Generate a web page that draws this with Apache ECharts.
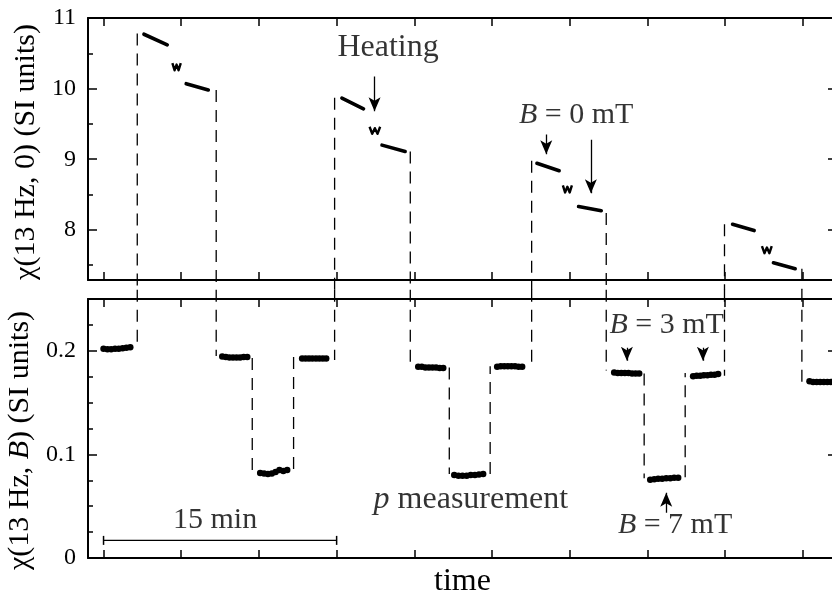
<!DOCTYPE html>
<html>
<head>
<meta charset="utf-8">
<script src="https://cdn.jsdelivr.net/npm/echarts@6/dist/echarts.min.js"></script>
<style>
  html, body { margin: 0; padding: 0; background: #ffffff; }
  #chart { width: 832px; height: 599px; }
</style>
</head>
<body>
<div id="chart"></div>
<script>
// ---- axes ----------------------------------------------------------------
// time in minutes, ticks every 5 min
const timeTicks = [0, 5, 10, 15, 20, 25, 30, 35, 40, 45];
const zeroFieldTicks = [8, 9, 10, 11];
const zeroFieldMinor = [7.5, 8.5, 9.5, 10.5];
const fieldTicks = [0, 0.1, 0.2];
const fieldMinor = [0.025, 0.05, 0.075, 0.125, 0.15, 0.175, 0.225];

// ---- chi(13 Hz, 0): B = 0 mT runs around each heating pulse -------------
const zeroRun1a = [[2.60, 10.77], [4.10, 10.62]];
const zeroRun1b = [[5.32, 10.07], [6.74, 9.98]];
const zeroRun2a = [[15.34, 9.865], [16.73, 9.714]];
const zeroRun2b = [[17.92, 9.20], [19.41, 9.11]];
const zeroRun3a = [[27.89, 8.943], [29.32, 8.838]];
const zeroRun3b = [[30.57, 8.33], [32.03, 8.27]];
const zeroRun4a = [[40.48, 8.078], [41.87, 7.99]];
const zeroRun4b = [[43.11, 7.533], [44.51, 7.45]];

// readings taken during heating
const heat1 = [[4.43, 10.36], [4.57, 10.26], [4.70, 10.34], [4.83, 10.26], [4.97, 10.36]];
const heat2 = [[17.12, 9.46], [17.29, 9.36], [17.46, 9.44], [17.63, 9.36], [17.80, 9.46]];
const heat3 = [[29.56, 8.63], [29.70, 8.53], [29.85, 8.61], [30.00, 8.53], [30.14, 8.63]];
const heat4 = [[42.37, 7.77], [42.53, 7.67], [42.69, 7.75], [42.85, 7.67], [43.00, 7.77]];

// ---- chi(13 Hz, B): field runs (B = 3 mT and B = 7 mT) -------------------
const field3a = [[0.00, 0.202], [0.25, 0.2015], [0.49, 0.2015], [0.74, 0.202], [0.98, 0.202], [1.23, 0.2025], [1.47, 0.203], [1.72, 0.2035]];
const field3b = [[7.64, 0.1945], [7.87, 0.194], [8.10, 0.1935], [8.33, 0.1935], [8.56, 0.1935], [8.79, 0.1935], [9.02, 0.194], [9.25, 0.194]];
const field7a = [[10.08, 0.082], [10.33, 0.0815], [10.58, 0.081], [10.83, 0.0815], [11.07, 0.083], [11.32, 0.085], [11.57, 0.084], [11.82, 0.085]];
const field3c = [[12.78, 0.1925], [13.00, 0.1925], [13.22, 0.1925], [13.44, 0.1925], [13.67, 0.1925], [13.89, 0.1925], [14.11, 0.1925], [14.33, 0.1925]];
const field3d = [[20.25, 0.1845], [20.48, 0.1845], [20.71, 0.184], [20.94, 0.184], [21.17, 0.184], [21.40, 0.184], [21.63, 0.1835], [21.86, 0.1835]];
const field7b = [[22.57, 0.080], [22.84, 0.0795], [23.10, 0.0795], [23.37, 0.0795], [23.63, 0.080], [23.90, 0.080], [24.16, 0.0805], [24.43, 0.081]];
const field3e = [[25.33, 0.1845], [25.56, 0.185], [25.79, 0.185], [26.02, 0.185], [26.25, 0.185], [26.48, 0.185], [26.71, 0.1845], [26.94, 0.1845]];
const field3f = [[32.86, 0.179], [33.09, 0.1785], [33.32, 0.1785], [33.55, 0.1785], [33.78, 0.1785], [34.01, 0.178], [34.24, 0.178], [34.47, 0.178]];
const field7c = [[35.18, 0.0755], [35.44, 0.076], [35.69, 0.0765], [35.95, 0.0765], [36.21, 0.077], [36.47, 0.077], [36.72, 0.0775], [36.98, 0.0775]];
const field3g = [[37.94, 0.1755], [38.17, 0.176], [38.40, 0.176], [38.63, 0.1765], [38.86, 0.1765], [39.09, 0.177], [39.32, 0.177], [39.55, 0.1775]];
const field3h = [[45.43, 0.1705], [45.66, 0.170], [45.89, 0.170], [46.12, 0.170], [46.35, 0.170], [46.58, 0.170], [46.81, 0.170], [47.04, 0.170]];

// ---- switching between runs: [time, chi(13 Hz, 0), chi(13 Hz, B)] -------
const panelSwitches = [
  [2.17, 10.78, 0.205], [7.25, 9.98, 0.195],
  [14.87, 9.87, 0.191], [19.74, 9.11, 0.1855],
  [27.55, 8.98, 0.1817], [32.35, 8.24, 0.181],
  [39.96, 8.08, 0.176], [44.94, 7.45, 0.170]
];
// field steps inside the lower panel: [time, from, to]
const fieldSteps = [
  [9.57, 0.193, 0.083], [12.23, 0.086, 0.195],
  [22.25, 0.184, 0.081], [24.88, 0.081, 0.185],
  [34.79, 0.178, 0.077], [37.43, 0.078, 0.1785]
];

// 15 min scale bar
const scaleBar = [[0, 0.017], [15, 0.017]];

// ---- annotations ---------------------------------------------------------
const upperNotes = [
  { at: [18.31, 10.58], text: 'Heating', size: 32 },
  { at: [30.41, 9.62], text: '{i|B} = 0 mT', size: 30 }
];
const lowerNotes = [
  { at: [23.64, 0.056], text: '{i|p} measurement', size: 32 },
  { at: [36.24, 0.225], text: '{i|B} = 3 mT', size: 30 },
  { at: [36.78, 0.032], text: '{i|B} = 7 mT', size: 30 },
  { at: [7.18, 0.037], text: '15 min', size: 30 }
];
const upperArrows = [
  [[17.44, 10.17], [17.44, 9.68]],
  [[28.49, 9.35], [28.49, 9.07]],
  [[31.36, 9.275], [31.36, 8.52]]
];
const lowerArrows = [
  [[33.68, 0.2029], [33.68, 0.1905]],
  [[38.57, 0.2029], [38.57, 0.1905]],
  [[36.21, 0.0437], [36.21, 0.063]]
];

// ---- styling -------------------------------------------------------------
const INK = '#000000';
const SERIF = 'Liberation Serif';
const TIME = { min: -1, max: 47.2 };
const UPPER = { min: 7.29, max: 11 };
const LOWER = { min: 0, max: 0.25 };
// switching lines meet halfway between the two panels
const UPPER_JOIN = 7.15;
const LOWER_JOIN = 0.259;

function xAxisFor(gridIndex, position, extra) {
  return Object.assign({
    type: 'value', gridIndex, position, min: TIME.min, max: TIME.max,
    axisLine: { show: true, onZero: false, lineStyle: { color: INK, width: 2 } },
    axisTick: { show: true, inside: true, length: 8, customValues: timeTicks, lineStyle: { color: INK, width: 1.5 } },
    axisLabel: { show: false, customValues: timeTicks },
    splitLine: { show: false }
  }, extra || {});
}

function yAxisFor(gridIndex, position, range, ticks, len, withLine, withLabels, extra) {
  return Object.assign({
    type: 'value', gridIndex, position, min: range.min, max: range.max,
    axisLine: { show: withLine, onZero: false, lineStyle: { color: INK, width: 2 } },
    axisTick: { show: true, inside: true, length: len, customValues: ticks, lineStyle: { color: INK, width: 1.5 } },
    axisLabel: {
      show: withLabels, customValues: ticks, margin: 12,
      fontFamily: SERIF, fontSize: 24, color: INK
    },
    splitLine: { show: false }
  }, extra || {});
}

const nameStyle = {
  fontFamily: SERIF, fontSize: 30, color: INK,
  rich: { i: { fontFamily: SERIF, fontSize: 30, fontStyle: 'italic', color: INK } }
};

const xAxes = [
  xAxisFor(0, 'bottom'),
  xAxisFor(0, 'top'),
  xAxisFor(1, 'bottom', {
    name: 'time', nameLocation: 'middle', nameGap: 8,
    nameTextStyle: { fontFamily: SERIF, fontSize: 32, color: INK }
  }),
  xAxisFor(1, 'top')
];

const yAxes = [
  yAxisFor(0, 'left', UPPER, zeroFieldTicks, 9, true, true, {
    name: 'χ(13 Hz, 0) (SI units)', nameLocation: 'middle', nameGap: 44,
    nameTextStyle: Object.assign({}, nameStyle, { padding: [0, 6, 0, 0] })
  }),
  yAxisFor(0, 'left', UPPER, zeroFieldMinor, 5, false, false),
  yAxisFor(0, 'right', UPPER, zeroFieldTicks, 9, true, false),
  yAxisFor(0, 'right', UPPER, zeroFieldMinor, 5, false, false),
  yAxisFor(1, 'left', LOWER, fieldTicks, 9, true, true, {
    name: 'χ(13 Hz, {i|B}) (SI units)', nameLocation: 'middle', nameGap: 44,
    nameTextStyle: Object.assign({}, nameStyle, { padding: [0, 24, 0, 0] })
  }),
  yAxisFor(1, 'left', LOWER, fieldMinor, 5, false, false),
  yAxisFor(1, 'right', LOWER, fieldTicks, 9, true, false),
  yAxisFor(1, 'right', LOWER, fieldMinor, 5, false, false)
];

const series = [];

// thick strokes of the B = 0 runs
[zeroRun1a, zeroRun1b, zeroRun2a, zeroRun2b, zeroRun3a, zeroRun3b, zeroRun4a, zeroRun4b].forEach(run => {
  series.push({
    type: 'line', xAxisIndex: 0, yAxisIndex: 0, data: run, symbol: 'none',
    lineStyle: { color: INK, width: 3.6, cap: 'round' }
  });
});

// heating readings
[heat1, heat2, heat3, heat4].forEach(run => {
  series.push({
    type: 'line', xAxisIndex: 0, yAxisIndex: 0, data: run, symbol: 'none',
    lineStyle: { color: INK, width: 2.4, join: 'round' }
  });
});

// field runs, dots
series.push({
  type: 'scatter', xAxisIndex: 2, yAxisIndex: 4,
  data: [].concat(field3a, field3b, field7a, field3c, field3d, field7b, field3e, field3f, field7c, field3g, field3h),
  symbol: 'circle', symbolSize: 6.5, itemStyle: { color: INK, opacity: 1 }
});

const dashed = { color: INK, width: 1.3, type: [12, 8] };

// switching lines crossing the gap between the panels
panelSwitches.forEach(([t, upper, lower]) => {
  series.push({
    type: 'line', xAxisIndex: 0, yAxisIndex: 0, clip: false, symbol: 'none',
    data: [[t, upper], [t, UPPER_JOIN]], lineStyle: dashed
  });
  series.push({
    type: 'line', xAxisIndex: 2, yAxisIndex: 4, clip: false, symbol: 'none',
    data: [[t, LOWER_JOIN], [t, lower]], lineStyle: dashed
  });
});

// field steps
fieldSteps.forEach(([t, from, to]) => {
  series.push({
    type: 'line', xAxisIndex: 2, yAxisIndex: 4, symbol: 'none',
    data: [[t, from], [t, to]], lineStyle: dashed
  });
});

// scale bar
series.push({
  type: 'line', xAxisIndex: 2, yAxisIndex: 4, data: scaleBar,
  symbol: 'rect', symbolSize: [1.5, 9], showSymbol: true,
  itemStyle: { color: INK }, lineStyle: { color: INK, width: 1.3 }
});

// arrows
function arrowSeries(xi, yi, list) {
  return {
    type: 'lines', coordinateSystem: 'cartesian2d', xAxisIndex: xi, yAxisIndex: yi,
    symbol: ['none', 'arrow'], symbolSize: [0, [9, 14]],
    lineStyle: { color: INK, width: 1.3, opacity: 1 },
    data: list.map(c => ({ coords: c }))
  };
}
series.push(arrowSeries(0, 0, upperArrows));
series.push(arrowSeries(2, 4, lowerArrows));

// text annotations
function noteSeries(xi, yi, notes) {
  return {
    type: 'scatter', xAxisIndex: xi, yAxisIndex: yi, symbolSize: 0, clip: false,
    data: notes.map(n => ({
      value: n.at,
      label: {
        show: true, position: 'inside', formatter: n.text,
        fontFamily: SERIF, fontSize: n.size, color: INK,
        rich: { i: { fontFamily: SERIF, fontSize: n.size, fontStyle: 'italic', color: INK } }
      }
    }))
  };
}
series.push(noteSeries(0, 0, upperNotes));
series.push(noteSeries(2, 4, lowerNotes));

const chart = echarts.init(document.getElementById('chart'), null, { renderer: 'canvas' });
chart.setOption({
  animation: false,
  backgroundColor: '#ffffff',
  grid: [
    { left: 88, top: 18, width: 749, height: 262, outerBoundsMode: 'none', containLabel: false },
    { left: 88, top: 299, width: 749, height: 259, outerBoundsMode: 'none', containLabel: false }
  ],
  xAxis: xAxes,
  yAxis: yAxes,
  series: series
});
</script>
</body>
</html>
